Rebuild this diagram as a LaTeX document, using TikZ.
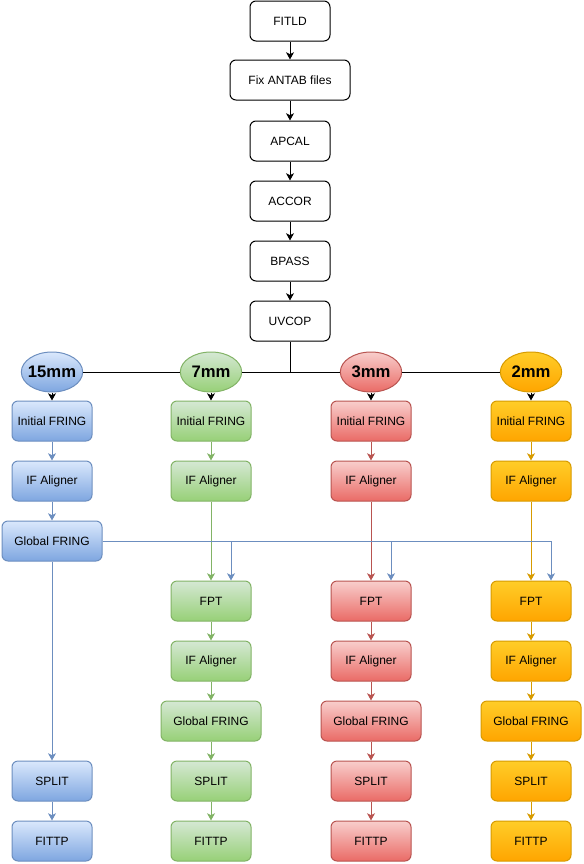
\documentclass[tikz,border=0pt]{standalone}
\usepackage{fontspec}
\setmainfont{Liberation Sans}
\usetikzlibrary{arrows.meta,shapes.geometric,calc}
\definecolor{bstroke}{HTML}{6C8EBF}\definecolor{btop}{HTML}{DAE8FC}\definecolor{bbot}{HTML}{7EA6E0}
\definecolor{gstroke}{HTML}{82B366}\definecolor{gtop}{HTML}{D5E8D4}\definecolor{gbot}{HTML}{97D077}
\definecolor{rstroke}{HTML}{B85450}\definecolor{rtop}{HTML}{F8CECC}\definecolor{rbot}{HTML}{EA6B66}
\definecolor{ostroke}{HTML}{D79B00}\definecolor{otop}{HTML}{FFCD28}\definecolor{obot}{HTML}{FFA500}
\newcommand{\bandlabel}[1]{\makebox[0pt]{#1}}
\tikzset{
  plainbox/.style={draw=black, line width=0.75pt, fill=white, rounded corners=4.5pt, minimum width=60pt, minimum height=30pt, inner sep=0pt, font=\fontsize{9}{10}\selectfont},
  cbox/.style={rounded corners=4.5pt, minimum width=60pt, minimum height=30pt, inner sep=0pt, line width=0.75pt, font=\fontsize{9}{10}\selectfont},
  bluebox/.style={cbox, draw=bstroke, top color=btop, bottom color=bbot},
  greenbox/.style={cbox, draw=gstroke, top color=gtop, bottom color=gbot},
  redbox/.style={cbox, draw=rstroke, top color=rtop, bottom color=rbot},
  orangebox/.style={cbox, draw=ostroke, top color=otop, bottom color=obot},
  band/.style={ellipse, minimum width=46pt, minimum height=30pt, inner sep=0pt, line width=0.75pt, font=\fontsize{12.5}{14}\selectfont\bfseries},
  arr/.style={line width=0.75pt, -{Stealth[length=5.5pt,width=6pt,inset=1.5pt]}},
  blk/.style={arr, draw=black},
  barr/.style={arr, draw=bstroke},
  garr/.style={arr, draw=gstroke},
  rarr/.style={arr, draw=rstroke},
  oarr/.style={arr, draw=ostroke},
  wide/.style={minimum width=75pt},
}
\begin{document}
\begin{tikzpicture}[x=0.75pt,y=-0.75pt]
\useasboundingbox (0,0) rectangle (583,864);
% top chain
\node[plainbox] (fitld) at (290,21) {FITLD};
\node[plainbox, minimum width=90pt] (antab) at (290,80) {Fix ANTAB files};
\node[plainbox] (apcal) at (290,141) {APCAL};
\node[plainbox] (accor) at (290,201) {ACCOR};
\node[plainbox] (bpass) at (290,261) {BPASS};
\node[plainbox] (uvcop) at (290,321) {UVCOP};
\draw[blk] (fitld) -- (antab);
\draw[blk] (antab) -- (apcal);
\draw[blk] (apcal) -- (accor);
\draw[blk] (accor) -- (bpass);
\draw[blk] (bpass) -- (uvcop);
% bands
\node[band, draw=bstroke, top color=btop, bottom color=bbot] (b15) at (52,372) {\bandlabel{15mm}};
\node[band, draw=gstroke, top color=gtop, bottom color=gbot] (b7) at (211,372) {\bandlabel{7mm}};
\node[band, draw=rstroke, top color=rtop, bottom color=rbot] (b3) at (371,372) {\bandlabel{3mm}};
\node[band, draw=ostroke, top color=otop, bottom color=obot] (b2) at (531,372) {\bandlabel{2mm}};
\coordinate (j) at (290,372);
\draw[line width=0.75pt] (uvcop.south) -- (j);
\draw[line width=0.75pt] (b15) -- (b7);
\draw[line width=0.75pt] (b7) -- (b3);
\draw[line width=0.75pt] (b3) -- (b2);
% 15mm column
\node[bluebox] (if15) at (52,421) {Initial FRING};
\node[bluebox] (al15) at (52,481) {IF Aligner};
\node[bluebox, wide] (gf15) at (52,541) {Global FRING};
\node[bluebox] (sp15) at (52,781) {SPLIT};
\node[bluebox] (ft15) at (52,841) {FITTP};
% 7mm column
\node[greenbox] (if7) at (211,421) {Initial FRING};
\node[greenbox] (al7) at (211,481) {IF Aligner};
\node[greenbox] (fp7) at (211,601) {FPT};
\node[greenbox] (ab7) at (211,661) {IF Aligner};
\node[greenbox, wide] (gf7) at (211,721) {Global FRING};
\node[greenbox] (sp7) at (211,781) {SPLIT};
\node[greenbox] (ft7) at (211,841) {FITTP};
% 3mm column
\node[redbox] (if3) at (371,421) {Initial FRING};
\node[redbox] (al3) at (371,481) {IF Aligner};
\node[redbox] (fp3) at (371,601) {FPT};
\node[redbox] (ab3) at (371,661) {IF Aligner};
\node[redbox, wide] (gf3) at (371,721) {Global FRING};
\node[redbox] (sp3) at (371,781) {SPLIT};
\node[redbox] (ft3) at (371,841) {FITTP};
% 2mm column
\node[orangebox] (if2) at (531,421) {Initial FRING};
\node[orangebox] (al2) at (531,481) {IF Aligner};
\node[orangebox] (fp2) at (531,601) {FPT};
\node[orangebox] (ab2) at (531,661) {IF Aligner};
\node[orangebox, wide] (gf2) at (531,721) {Global FRING};
\node[orangebox] (sp2) at (531,781) {SPLIT};
\node[orangebox] (ft2) at (531,841) {FITTP};
% band arrows
\draw[blk] (b15) -- (if15);
\draw[blk] (b7) -- (if7);
\draw[blk] (b3) -- (if3);
\draw[blk] (b2) -- (if2);
% blue
\draw[barr] (if15) -- (al15);
\draw[barr] (al15) -- (gf15);
\draw[barr] (gf15) -- (sp15);
\draw[barr] (sp15) -- (ft15);
% green
\draw[garr] (if7) -- (al7);
\draw[garr] (al7) -- (fp7);
\draw[garr] (fp7) -- (ab7);
\draw[garr] (ab7) -- (gf7);
\draw[garr] (gf7) -- (sp7);
\draw[garr] (sp7) -- (ft7);
% red
\draw[rarr] (if3) -- (al3);
\draw[rarr] (al3) -- (fp3);
\draw[rarr] (fp3) -- (ab3);
\draw[rarr] (ab3) -- (gf3);
\draw[rarr] (gf3) -- (sp3);
\draw[rarr] (sp3) -- (ft3);
% orange
\draw[oarr] (if2) -- (al2);
\draw[oarr] (al2) -- (fp2);
\draw[oarr] (fp2) -- (ab2);
\draw[oarr] (ab2) -- (gf2);
\draw[oarr] (gf2) -- (sp2);
\draw[oarr] (sp2) -- (ft2);
% global fring 15mm to FPTs
\draw[barr] (gf15.east) -| ([xshift=15pt]fp7.north);
\draw[barr] (gf15.east) -| ([xshift=15pt]fp3.north);
\draw[barr] (gf15.east) -| ([xshift=15pt]fp2.north);
\end{tikzpicture}
\end{document}
